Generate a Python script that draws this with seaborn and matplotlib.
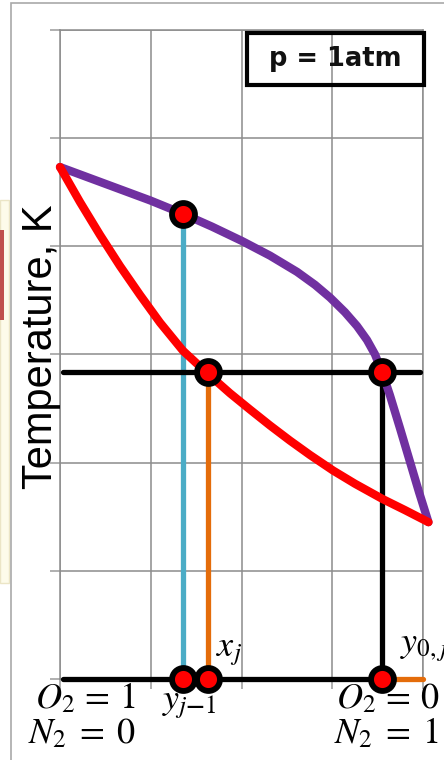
import numpy as np
import pandas as pd
import seaborn as sns
import matplotlib
matplotlib.use("Agg")
import matplotlib.pyplot as plt
from matplotlib.patches import Rectangle

# ---------------- data ----------------
# composition axis: 0 = pure O2, 4 = pure N2 (grid units); temperature in grid units
dew_x = [0.000, 0.496, 0.992, 1.355, 1.675, 2.006, 2.314, 2.612, 2.810, 2.975, 3.140,
         3.273, 3.383, 3.471, 3.559, 3.636, 3.747, 3.857, 3.956, 4.060]
dew_T = [4.733, 4.579, 4.425, 4.301, 4.182, 4.049, 3.914, 3.764, 3.644, 3.527, 3.391,
         3.263, 3.134, 3.001, 2.816, 2.622, 2.317, 2.007, 1.728, 1.450]
bub_x = [0.000, 0.220, 0.441, 0.661, 0.882, 1.102, 1.355, 1.620, 1.873, 2.094, 2.314,
         2.534, 2.755, 3.008, 3.251, 3.559, 3.802, 4.060]
bub_T = [4.733, 4.410, 4.105, 3.818, 3.550, 3.295, 3.035, 2.829, 2.642, 2.491, 2.344,
         2.204, 2.071, 1.928, 1.805, 1.662, 1.561, 1.450]

x_yprev = 1.355     # y_{j-1}
x_xj = 1.63         # x_j
x_y0 = 3.55         # y_{0,j}
T_vap = 4.30        # vapour point on dew curve
T_j = 2.84          # stage temperature
x_left, x_right = 0.03, 4.0
base = 0.0

point_x = [x_yprev, x_xj, x_y0, x_yprev, x_xj, x_y0]
point_T = [T_vap, T_j, T_j, base, base, base]

pressure_label = "p = 1atm"
y_label = "Temperature, K"

# ---------------- figure ----------------
W, H = 444, 760
sns.set_theme(style="white")
plt.rcParams["mathtext.fontset"] = "stix"
fig = plt.figure(figsize=(W / 100, H / 100), dpi=100)
fig.patch.set_facecolor("white")

def fx(px):
    return px / W

def fy(py):
    return 1 - py / H

# screenshot decorations
fig.patches.append(Rectangle((0, fy(583)), fx(9), (583 - 200) / H, transform=fig.transFigure,
                             facecolor="#fdfbea", edgecolor="#ebe5c6", lw=1.0, zorder=0))
fig.patches.append(Rectangle((0, fy(320)), fx(3.5), (320 - 230) / H, transform=fig.transFigure,
                             facecolor="#c0504d", edgecolor="none", zorder=1))
fig.patches.append(Rectangle((fx(10.5), fy(770)), fx(500), (770 - 3.5) / H, transform=fig.transFigure,
                             facecolor="none", edgecolor="#a9a9a9", lw=1.2, zorder=1))

ax = fig.add_axes([fx(60), fy(679), (423 - 60) / W, (679 - 30) / H])
ax.set_facecolor("none")
ax.set_xlim(0, 4)
ax.set_ylim(0, 6)
ax.set_xticks(range(0, 5))
ax.set_yticks(range(0, 7))
ax.set_xticklabels([])
ax.set_yticklabels([])
ax.grid(True, color="#8c8c8c", lw=1.1)
ax.tick_params(axis="both", length=7, width=1.1, color="#9a9a9a", bottom=True, left=True)
for s in ax.spines.values():
    s.set_color("#8c8c8c")
    s.set_linewidth(1.1)

lw_guide = 3.8
guides = [
    ([x_yprev, x_yprev], [T_vap, base], "#4bacc6", 3),
    ([x_xj, x_xj], [T_j, base], "#e46c0a", 3),
    ([x_y0, x_right], [base, base], "#e46c0a", 3),
    ([x_left, x_right - 0.03], [T_j, T_j], "black", 4),
    ([x_y0, x_y0], [T_j, base], "black", 4),
    ([x_left, x_y0], [base, base], "black", 4),
]
for gx, gy, col, z in guides:
    sns.lineplot(x=gx, y=gy, sort=False, estimator=None, color=col, lw=lw_guide, ax=ax,
                 zorder=z, clip_on=False)

# equilibrium curves
sns.lineplot(x=dew_x, y=dew_T, sort=False, estimator=None, color="#7030a0", lw=6.0, ax=ax,
             zorder=5, clip_on=False)
sns.lineplot(x=bub_x, y=bub_T, sort=False, estimator=None, color="#ff0000", lw=6.0, ax=ax,
             zorder=5, clip_on=False)
for ln in ax.lines:
    ln.set_solid_joinstyle("round")

# points
sns.scatterplot(x=point_x, y=point_T, s=16.5 ** 2, color="#ff0000", edgecolor="black",
                linewidth=4.2, ax=ax, zorder=7, clip_on=False, legend=False)

ax.set_xlabel("")
ax.set_ylabel("")

# pressure box
fig.patches.append(Rectangle((fx(247), fy(85)), (424 - 247) / W, (85 - 33) / H,
                             transform=fig.transFigure, facecolor="none", edgecolor="black",
                             lw=3.0, zorder=8))
fig.text(fx(335), fy(59), pressure_label, ha="center", va="center", fontsize=18.5,
         fontweight="bold", family="DejaVu Sans", color="#111111", zorder=9)

# y label
fig.text(fx(41), fy(347), y_label, rotation=90, ha="center", va="center", fontsize=30,
         family="Liberation Sans", color="black", zorder=9)

# bottom labels (below the markers)
fs = 26
def lab(px, py, s, ha="right"):
    ax.text(fx(px), fy(py), s, transform=fig.transFigure, ha=ha, va="baseline",
            fontsize=fs, zorder=6, clip_on=False, color="black")

lab(136, 708, r"$O_2\,=\,1$")
lab(136, 743, r"$N_2\;=\;0$")
lab(439, 708, r"$O_2\,=\,0$")
lab(439, 743, r"$N_2\;=\;1$")
lab(162, 709, r"$y_{j\mathbf{-}1}$", ha="left")
lab(216, 656, r"$x_j$", ha="left")
lab(400, 652, r"$y_{0,j}$", ha="left")

fig.savefig("out.png", dpi=100, facecolor="white")
